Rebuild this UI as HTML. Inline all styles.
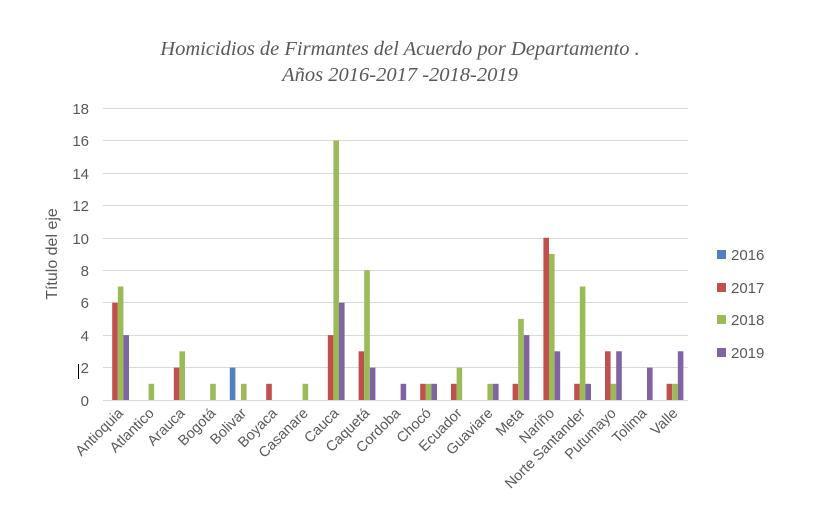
<!DOCTYPE html>
<html><head><meta charset="utf-8"><style>
html,body{margin:0;padding:0;background:#fff;}
svg{display:block;}
</style></head><body>
<svg width="816" height="532" viewBox="0 0 816 532" xmlns="http://www.w3.org/2000/svg" font-family="Liberation Sans, sans-serif">
<rect width="816" height="532" fill="#fff"/>
<text x="400" y="55" text-anchor="middle" font-family="Liberation Serif, serif" font-style="italic" font-size="20.5" fill="#595959">Homicidios de Firmantes del Acuerdo por Departamento .</text>
<text x="400" y="81" text-anchor="middle" font-family="Liberation Serif, serif" font-style="italic" font-size="20.5" fill="#595959">Años 2016-2017 -2018-2019</text>
<g stroke="#d9d9d9" stroke-width="1">
<line x1="103" x2="688" y1="108.5" y2="108.5"/>
<line x1="103" x2="688" y1="140.5" y2="140.5"/>
<line x1="103" x2="688" y1="173.5" y2="173.5"/>
<line x1="103" x2="688" y1="205.5" y2="205.5"/>
<line x1="103" x2="688" y1="238.5" y2="238.5"/>
<line x1="103" x2="688" y1="270.5" y2="270.5"/>
<line x1="103" x2="688" y1="302.5" y2="302.5"/>
<line x1="103" x2="688" y1="335.5" y2="335.5"/>
<line x1="103" x2="688" y1="367.5" y2="367.5"/>
<line x1="103" x2="688" y1="400.5" y2="400.5"/>
</g>
<g font-size="15" fill="#595959" text-anchor="end">
<text x="89" y="114">18</text><text x="89" y="146">16</text><text x="89" y="179">14</text>
<text x="89" y="211">12</text><text x="89" y="244">10</text><text x="89" y="276">8</text>
<text x="89" y="308">6</text><text x="89" y="341">4</text><text x="89" y="373">2</text>
<text x="89" y="406">0</text>
</g>
<line x1="78.5" y1="364" x2="78.5" y2="379" stroke="#000" stroke-width="1"/>
<text transform="translate(57,254) rotate(-90)" text-anchor="middle" font-size="16" fill="#595959">Título del eje</text>
<g>
<g transform="translate(106.6,0)"><rect x="5.6" y="302.7" width="5.6" height="97.3" fill="#c0504d"/><rect x="11.2" y="286.5" width="5.6" height="113.5" fill="#9bbb59"/><rect x="16.8" y="335.1" width="5.6" height="64.9" fill="#8064a2"/></g>
<g transform="translate(137.4,0)"><rect x="11.2" y="383.8" width="5.6" height="16.2" fill="#9bbb59"/></g>
<g transform="translate(168.2,0)"><rect x="5.6" y="367.6" width="5.6" height="32.4" fill="#c0504d"/><rect x="11.2" y="351.3" width="5.6" height="48.7" fill="#9bbb59"/></g>
<g transform="translate(199.0,0)"><rect x="11.2" y="383.8" width="5.6" height="16.2" fill="#9bbb59"/></g>
<g transform="translate(229.8,0)"><rect x="0" y="367.6" width="5.6" height="32.4" fill="#4f81bd"/><rect x="11.2" y="383.8" width="5.6" height="16.2" fill="#9bbb59"/></g>
<g transform="translate(260.6,0)"><rect x="5.6" y="383.8" width="5.6" height="16.2" fill="#c0504d"/></g>
<g transform="translate(291.4,0)"><rect x="11.2" y="383.8" width="5.6" height="16.2" fill="#9bbb59"/></g>
<g transform="translate(322.2,0)"><rect x="5.6" y="335.1" width="5.6" height="64.9" fill="#c0504d"/><rect x="11.2" y="140.5" width="5.6" height="259.5" fill="#9bbb59"/><rect x="16.8" y="302.7" width="5.6" height="97.3" fill="#8064a2"/></g>
<g transform="translate(353.0,0)"><rect x="5.6" y="351.3" width="5.6" height="48.7" fill="#c0504d"/><rect x="11.2" y="270.2" width="5.6" height="129.8" fill="#9bbb59"/><rect x="16.8" y="367.6" width="5.6" height="32.4" fill="#8064a2"/></g>
<g transform="translate(383.8,0)"><rect x="16.8" y="383.8" width="5.6" height="16.2" fill="#8064a2"/></g>
<g transform="translate(414.6,0)"><rect x="5.6" y="383.8" width="5.6" height="16.2" fill="#c0504d"/><rect x="11.2" y="383.8" width="5.6" height="16.2" fill="#9bbb59"/><rect x="16.8" y="383.8" width="5.6" height="16.2" fill="#8064a2"/></g>
<g transform="translate(445.4,0)"><rect x="5.6" y="383.8" width="5.6" height="16.2" fill="#c0504d"/><rect x="11.2" y="367.6" width="5.6" height="32.4" fill="#9bbb59"/></g>
<g transform="translate(476.2,0)"><rect x="11.2" y="383.8" width="5.6" height="16.2" fill="#9bbb59"/><rect x="16.8" y="383.8" width="5.6" height="16.2" fill="#8064a2"/></g>
<g transform="translate(507.0,0)"><rect x="5.6" y="383.8" width="5.6" height="16.2" fill="#c0504d"/><rect x="11.2" y="318.9" width="5.6" height="81.1" fill="#9bbb59"/><rect x="16.8" y="335.1" width="5.6" height="64.9" fill="#8064a2"/></g>
<g transform="translate(537.8,0)"><rect x="5.6" y="237.8" width="5.6" height="162.2" fill="#c0504d"/><rect x="11.2" y="254" width="5.6" height="146" fill="#9bbb59"/><rect x="16.8" y="351.3" width="5.6" height="48.7" fill="#8064a2"/></g>
<g transform="translate(568.6,0)"><rect x="5.6" y="383.8" width="5.6" height="16.2" fill="#c0504d"/><rect x="11.2" y="286.5" width="5.6" height="113.5" fill="#9bbb59"/><rect x="16.8" y="383.8" width="5.6" height="16.2" fill="#8064a2"/></g>
<g transform="translate(599.4,0)"><rect x="5.6" y="351.3" width="5.6" height="48.7" fill="#c0504d"/><rect x="11.2" y="383.8" width="5.6" height="16.2" fill="#9bbb59"/><rect x="16.8" y="351.3" width="5.6" height="48.7" fill="#8064a2"/></g>
<g transform="translate(630.2,0)"><rect x="16.8" y="367.6" width="5.6" height="32.4" fill="#8064a2"/></g>
<g transform="translate(661.0,0)"><rect x="5.6" y="383.8" width="5.6" height="16.2" fill="#c0504d"/><rect x="11.2" y="383.8" width="5.6" height="16.2" fill="#9bbb59"/><rect x="16.8" y="351.3" width="5.6" height="48.7" fill="#8064a2"/></g>
</g>
<g font-size="14.5" fill="#595959" text-anchor="end">
<text transform="translate(124,414) rotate(-45)">Antioquia</text>
<text transform="translate(154.8,414) rotate(-45)">Atlantico</text>
<text transform="translate(185.6,414) rotate(-45)">Arauca</text>
<text transform="translate(216.4,414) rotate(-45)">Bogotá</text>
<text transform="translate(247.2,414) rotate(-45)">Bolivar</text>
<text transform="translate(278,414) rotate(-45)">Boyaca</text>
<text transform="translate(308.8,414) rotate(-45)">Casanare</text>
<text transform="translate(339.6,414) rotate(-45)">Cauca</text>
<text transform="translate(370.4,414) rotate(-45)">Caquetá</text>
<text transform="translate(401.2,414) rotate(-45)">Cordoba</text>
<text transform="translate(432,414) rotate(-45)">Chocó</text>
<text transform="translate(462.8,414) rotate(-45)">Ecuador</text>
<text transform="translate(493.6,414) rotate(-45)">Guaviare</text>
<text transform="translate(524.4,414) rotate(-45)">Meta</text>
<text transform="translate(555.2,414) rotate(-45)">Nariño</text>
<text transform="translate(586,414) rotate(-45)">Norte Santander</text>
<text transform="translate(616.8,414) rotate(-45)">Putumayo</text>
<text transform="translate(647.6,414) rotate(-45)">Tolima</text>
<text transform="translate(678.4,414) rotate(-45)">Valle</text>
</g>
<g font-size="15" fill="#595959">
<rect x="717" y="250" width="9" height="9" fill="#4f81bd"/><text x="731" y="260">2016</text>
<rect x="717" y="283" width="9" height="9" fill="#c0504d"/><text x="731" y="293">2017</text>
<rect x="717" y="315" width="9" height="9" fill="#9bbb59"/><text x="731" y="325">2018</text>
<rect x="717" y="348" width="9" height="9" fill="#8064a2"/><text x="731" y="358">2019</text>
</g>
</svg>
</body></html>
